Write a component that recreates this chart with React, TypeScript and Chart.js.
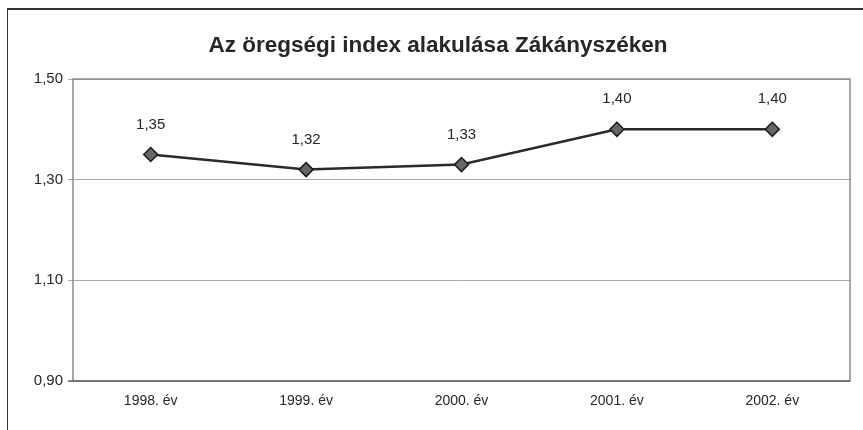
import React, { useEffect, useRef } from "react";
import { Chart, registerables } from "chart.js";

Chart.register(...registerables);

const TITLE = "Az öregségi index alakulása Zákányszéken";
const CATEGORIES = ["1998. év", "1999. év", "2000. év", "2001. év", "2002. év"];
const VALUES = [1.35, 1.32, 1.33, 1.4, 1.4];
const Y_MIN = 0.9;
const Y_MAX = 1.5;
const Y_STEP = 0.2;

const FONT = "'Liberation Sans', Arial, Helvetica, sans-serif";
const fmt = (v: number) => v.toFixed(2).replace(".", ",");

const decorPlugin = {
  id: "decor",
  beforeDatasetsDraw(chart: any) {
    const { ctx, chartArea } = chart;
    ctx.save();
    ctx.strokeStyle = "#8a8a8a";
    ctx.lineWidth = 1.5;
    ctx.strokeRect(chartArea.left, chartArea.top, chartArea.right - chartArea.left, chartArea.bottom - chartArea.top);
    ctx.strokeStyle = "#666";
    ctx.beginPath();
    ctx.moveTo(chartArea.left - 5, chartArea.bottom);
    ctx.lineTo(chartArea.right, chartArea.bottom);
    ctx.stroke();
    ctx.restore();
  },
  afterDraw(chart: any) {
    const { ctx } = chart;
    ctx.save();
    ctx.font = `bold 22.5px ${FONT}`;
    ctx.fillStyle = "#262626";
    ctx.textAlign = "center";
    ctx.textBaseline = "alphabetic";
    ctx.fillText(TITLE, 430, 42);
    ctx.font = `15px ${FONT}`;
    ctx.textBaseline = "middle";
    const meta = chart.getDatasetMeta(0);
    meta.data.forEach((pt: any, i: number) => {
      ctx.fillText(fmt(VALUES[i]), pt.x, pt.y - 30);
    });
    ctx.restore();
  },
};

export default function App() {
  const ref = useRef<HTMLCanvasElement | null>(null);
  useEffect(() => {
    if (!ref.current) return;
    const chart = new Chart(ref.current, {
      type: "line",
      data: {
        labels: CATEGORIES,
        datasets: [
          {
            data: VALUES,
            borderColor: "#2a2a2a",
            borderWidth: 2.5,
            pointStyle: "rectRot",
            pointRadius: 7,
            pointBackgroundColor: "#666",
            pointBorderColor: "#1a1a1a",
            pointBorderWidth: 1.5,
            tension: 0,
            fill: false,
          },
        ],
      },
      options: {
        animation: false,
        responsive: false,
        maintainAspectRatio: false,
        layout: { padding: { top: 69, right: 13, bottom: 0, left: 0 } },
        plugins: {
          legend: { display: false },
          title: { display: false },
          tooltip: { enabled: false },
        },
        scales: {
          x: {
            type: "category",
            offset: true,
            grid: { display: false, drawTicks: false },
            border: { display: false },
            ticks: {
              color: "#262626",
              font: { family: FONT, size: 14 },
              padding: 12,
              maxRotation: 0,
            },
            afterFit(scale: any) {
              scale.height = 49;
            },
          },
          y: {
            min: Y_MIN,
            max: Y_MAX,
            grid: {
              color: "#a8a8a8",
              lineWidth: 1,
              drawTicks: true,
              tickLength: 5,
            },
            border: { display: false },
            ticks: {
              stepSize: Y_STEP,
              color: "#262626",
              font: { family: FONT, size: 15 },
              padding: 5,
              callback: (v: any) => fmt(Number(v)),
            },
            afterFit(scale: any) {
              scale.width = 65;
            },
          },
        },
      },
      plugins: [decorPlugin],
    });
    return () => chart.destroy();
  }, []);

  return (
    <div
      style={{
        position: "fixed",
        left: 7,
        top: 8,
        width: 856,
        height: 422,
        borderLeft: "1px solid #333",
        borderTop: "2px solid #333",
        background: "#fff",
        boxSizing: "border-box",
      }}
    >
      <canvas ref={ref} width={855} height={420} style={{ display: "block", width: 855, height: 420 }} />
    </div>
  );
}
